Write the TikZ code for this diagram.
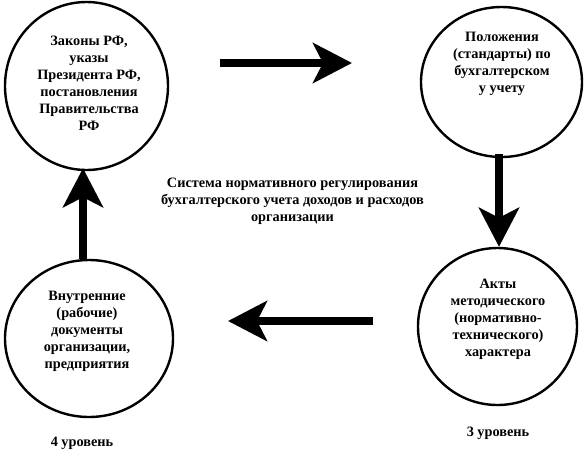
\documentclass[tikz,border=0pt]{standalone}
\usepackage{fontspec}
\setmainfont{Liberation Serif}
\usetikzlibrary{shapes.geometric,arrows.meta}
\tikzset{
  ring/.style={draw=black, line width=2.4pt, ellipse, inner sep=0pt},
  txt/.style={align=center, font=\fontsize{14.3}{17}\selectfont\bfseries, inner sep=0pt},
  bigarrow/.style={line width=7.5pt, -{Stealth[length=39pt,width=40pt,inset=10pt]}}
}
\begin{document}
\begin{tikzpicture}[x=1pt,y=-1pt]
\useasboundingbox (0,0) rectangle (584,467);
% circles
\node[ring, minimum width=163pt, minimum height=168pt] (tl) at (86.5,86) {};
\node[ring, minimum width=161pt, minimum height=150pt] (tr) at (501.5,82) {};
\node[ring, minimum width=159pt, minimum height=157pt] (br) at (497.5,326.5) {};
\node[ring, minimum width=168pt, minimum height=157pt] (bl) at (89,338.5) {};
% texts
\node[txt] (tlt) at (89,83.5) {Законы РФ,\\указы\\Президента РФ,\\постановления\\Правительства\\РФ};
\node[txt] (trt) at (502,64) {Положения\\(стандарты) по\\бухгалтерском\\у учету};
\node[txt] (brt) at (498,319) {Акты\\методического\\(нормативно-\\технического)\\характера};
\node[txt] (blt) at (87,331.5) {Внутренние\\(рабочие)\\документы\\организации,\\предприятия};
\node[txt] (ct) at (292.5,201) {Система нормативного регулирования\\бухгалтерского учета доходов и расходов\\организации};
\node[txt] (l4) at (82,443) {4 уровень};
\node[txt] (l3) at (498,433) {3 уровень};
% arrows
\coordinate (a1s) at (220,63);
\coordinate (a1e) at (352,63);
\coordinate (a3s) at (373,321);
\coordinate (a3e) at (228,321);
\draw[bigarrow] (a1s) -- (a1e);
\draw[bigarrow] (a3s) -- (a3e);
\draw[bigarrow] ([xshift=-2.5pt,yshift=4pt]tr.south) -- ([xshift=1.5pt]br.north);
\draw[bigarrow] ([xshift=-6pt]bl.north) -- ([xshift=-3.5pt,yshift=3pt]tl.south);
\end{tikzpicture}
\end{document}
